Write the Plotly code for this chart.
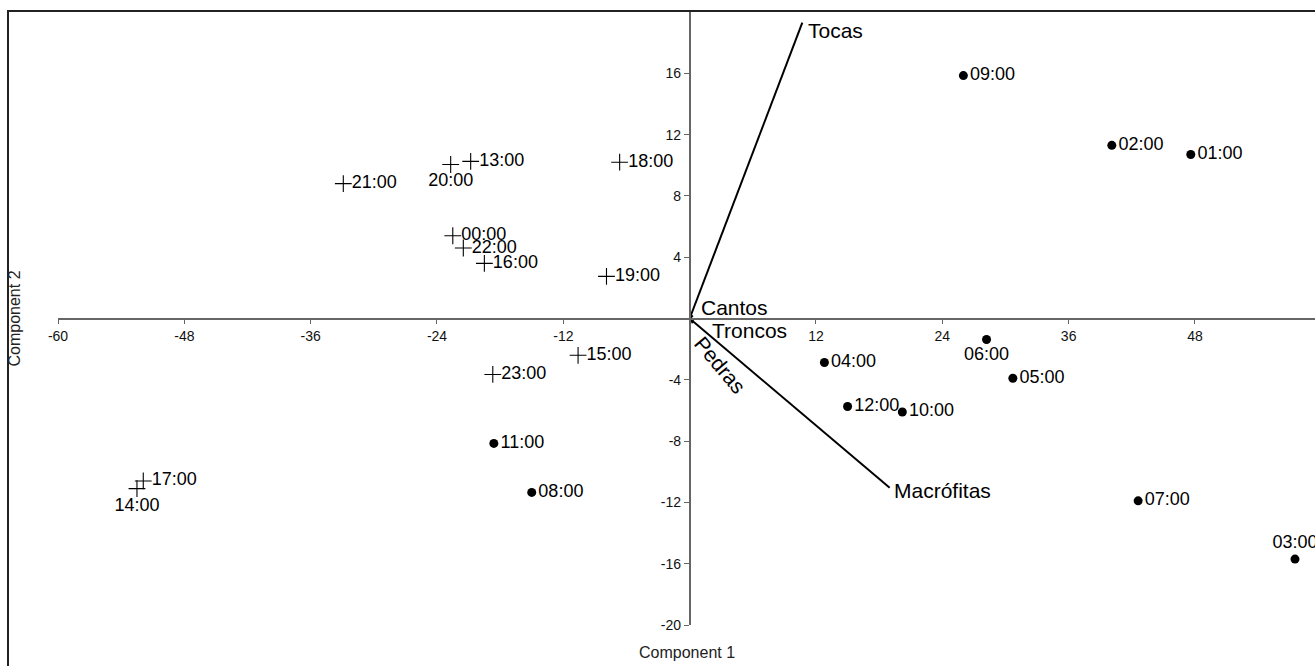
import plotly.graph_objects as go

# Scores of each hourly sample on the first two components
dot_hours = ["09:00", "02:00", "01:00", "06:00", "04:00", "05:00",
             "12:00", "10:00", "11:00", "08:00", "07:00", "03:00"]
dot_c1 = [26.0, 40.1, 47.6, 28.2, 12.8, 30.7, 15.0, 20.2, -18.6, -15.0, 42.6, 57.5]
dot_c2 = [15.85, 11.3, 10.7, -1.37, -2.87, -3.9, -5.74, -6.1, -8.15, -11.35, -11.9, -15.7]

cross_hours = ["21:00", "20:00", "13:00", "18:00", "00:00", "22:00",
               "16:00", "19:00", "15:00", "23:00", "17:00", "14:00"]
cross_c1 = [-32.9, -22.7, -20.8, -6.65, -22.5, -21.5, -19.5, -7.9, -10.6, -18.7, -51.9, -52.5]
cross_c2 = [8.8, 10.05, 10.25, 10.2, 5.4, 4.6, 3.6, 2.75, -2.4, -3.65, -10.6, -11.1]

# Habitat variables (biplot loadings)
var_names = ["Tocas", "Macrófitas", "Cantos", "Troncos", "Pedras"]
var_c1 = [10.7, 19.0, 0.3, 0.4, 0.3]
var_c2 = [19.3, -11.05, 0.2, -0.1, -0.3]

# Axis ticks
x_ticks = [-60, -48, -36, -24, -12, 12, 24, 36, 48]
y_ticks = [-20, -16, -12, -8, -4, 4, 8, 12, 16]

X_RANGE = [-60, 59.4]
Y_RANGE = [-20, 20]

FONT = "Liberation Sans, Arial, sans-serif"

def text_pos(hours, special):
    return [special.get(h, "middle right") for h in hours]

fig = go.Figure()

# Variable vectors drawn from the origin
for name, vx, vy in zip(var_names, var_c1, var_c2):
    fig.add_trace(go.Scatter(
        x=[0, vx], y=[0, vy], mode="lines",
        line=dict(color="black", width=2), hoverinfo="skip", showlegend=False))

fig.add_trace(go.Scatter(
    x=dot_c1, y=dot_c2, mode="markers+text",
    marker=dict(symbol="circle", size=9, color="black"),
    text=dot_hours,
    textposition=text_pos(dot_hours, {"06:00": "bottom center", "03:00": "top center"}),
    textfont=dict(family=FONT, size=18, color="black"),
    cliponaxis=True, showlegend=False))

fig.add_trace(go.Scatter(
    x=cross_c1, y=cross_c2, mode="markers+text",
    marker=dict(symbol="cross-thin", size=12, color="black",
                line=dict(color="black", width=1.1)),
    text=cross_hours,
    textposition=text_pos(cross_hours, {"20:00": "bottom center", "14:00": "bottom center"}),
    textfont=dict(family=FONT, size=18, color="black"),
    cliponaxis=True, showlegend=False))

# Vector labels
label_style = {
    "Tocas": dict(xshift=4, yshift=-8),
    "Macrófitas": dict(xshift=2, yshift=-3),
    "Cantos": dict(xshift=6, yshift=8),
    "Troncos": dict(xshift=16, yshift=-10),
}
VAR_SIZE = 21
annotations = []
for name, vx, vy in zip(var_names, var_c1, var_c2):
    if name == "Pedras":
        annotations.append(dict(
            x=vx, y=vy, text=name, showarrow=False, textangle=50,
            xanchor="center", yanchor="middle", xshift=28, yshift=-42,
            font=dict(family=FONT, size=VAR_SIZE, color="black")))
    else:
        st = label_style[name]
        annotations.append(dict(
            x=vx, y=vy, text=name, showarrow=False,
            xanchor="left", yanchor="middle",
            xshift=st["xshift"], yshift=st["yshift"],
            font=dict(family=FONT, size=VAR_SIZE, color="black")))

# Axis titles
annotations.append(dict(
    x=0.5, y=-0.028, xref="paper", yref="paper", text="Component 1",
    showarrow=False, xanchor="center", yanchor="top",
    font=dict(family=FONT, size=16, color="#222")))
annotations.append(dict(
    x=-0.035, y=0.5, xref="paper", yref="paper", text="Component 2",
    showarrow=False, textangle=-90, xanchor="center", yanchor="middle",
    font=dict(family=FONT, size=16, color="#222")))

x_zero_pos = (0 - X_RANGE[0]) / (X_RANGE[1] - X_RANGE[0])
y_zero_pos = (0 - Y_RANGE[0]) / (Y_RANGE[1] - Y_RANGE[0])

axis_common = dict(
    showgrid=False, zeroline=False, showline=True,
    linecolor="#666", linewidth=1.5,
    ticks="outside", ticklen=5, tickwidth=1, tickcolor="#666",
    tickfont=dict(family=FONT, size=14, color="#111"),
    anchor="free", fixedrange=True,
)

fig.update_layout(
    width=1315, height=666,
    margin=dict(l=58, r=0, t=12, b=41),
    paper_bgcolor="white", plot_bgcolor="white",
    xaxis=dict(range=X_RANGE, tickvals=x_ticks, ticktext=[str(v) for v in x_ticks],
               position=y_zero_pos, **axis_common),
    yaxis=dict(range=Y_RANGE, tickvals=y_ticks, ticktext=[str(v) for v in y_ticks],
               position=x_zero_pos, **axis_common),
    annotations=annotations,
    shapes=[dict(type="rect", xref="paper", yref="paper",
                 x0=(8 - 58) / 1257, x1=1.05, y0=-0.2, y1=1 + 1 / 613,
                 line=dict(color="#222", width=2), layer="above")],
)

fig.write_html("out.html")
